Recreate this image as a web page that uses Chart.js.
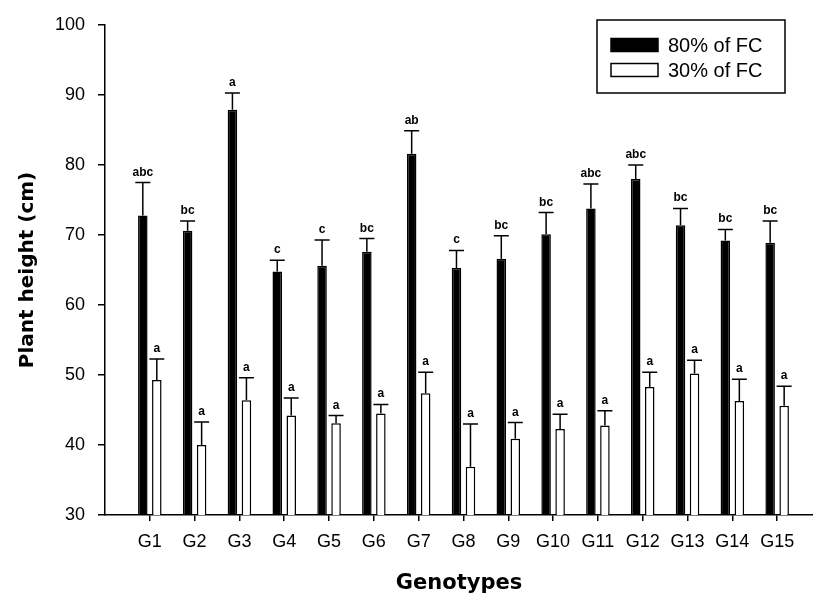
<!DOCTYPE html>
<html>
<head>
<meta charset="utf-8">
<script src="https://cdn.jsdelivr.net/npm/chart.js@4/dist/chart.umd.min.js"></script>
<style>
  body { margin: 0; background: #fff; }
  #wrap { width: 813px; height: 596px; position: relative; }
</style>
</head>
<body>
<div id="wrap"><canvas id="chart"></canvas></div>
<script>
const genotypes = ["G1", "G2", "G3", "G4", "G5", "G6", "G7", "G8", "G9", "G10", "G11", "G12", "G13", "G14", "G15"];

// 80% of field capacity
const fc80 = [72.8, 70.6, 87.9, 64.8, 65.6, 67.6, 81.6, 65.3, 66.6, 70.1, 73.8, 78.0, 71.4, 69.2, 68.9];
const fc80Err = [4.7, 1.4, 2.4, 1.6, 3.7, 1.9, 3.3, 2.5, 3.3, 3.1, 3.5, 2.0, 2.4, 1.6, 3.1];
const fc80Letters = ["abc", "bc", "a", "c", "c", "bc", "ab", "c", "bc", "bc", "abc", "abc", "bc", "bc", "bc"];

// 30% of field capacity
const fc30 = [49.3, 40.0, 46.4, 44.2, 43.1, 44.5, 47.4, 36.9, 40.9, 42.3, 42.8, 48.3, 50.2, 46.3, 45.6];
const fc30Err = [3.0, 3.3, 3.2, 2.5, 1.1, 1.3, 3.0, 6.1, 2.3, 2.1, 2.1, 2.1, 1.9, 3.1, 2.8];
const fc30Letters = ["a", "a", "a", "a", "a", "a", "a", "a", "a", "a", "a", "a", "a", "a", "a"];

const yTicks = [30, 40, 50, 60, 70, 80, 90, 100];

const sans = "'Liberation Sans', Arial, sans-serif";
const boldSans = "'DejaVu Sans', Verdana, sans-serif";

// error bars (upper only) plus significance letters
const errorBars = {
  id: "errorBars",
  afterDatasetsDraw(chart) {
    const ctx = chart.ctx;
    const y = chart.scales.y;
    ctx.save();
    ctx.strokeStyle = "#000";
    ctx.fillStyle = "#000";
    ctx.lineWidth = 1.5;
    ctx.font = "bold 12px " + sans;
    ctx.textAlign = "center";
    ctx.textBaseline = "alphabetic";
    chart.data.datasets.forEach((ds, di) => {
      const meta = chart.getDatasetMeta(di);
      meta.data.forEach((bar, i) => {
        const top = y.getPixelForValue(ds.data[i].y + ds.errors[i]);
        ctx.beginPath();
        ctx.moveTo(bar.x, bar.y);
        ctx.lineTo(bar.x, top);
        ctx.moveTo(bar.x - 7.5, top);
        ctx.lineTo(bar.x + 7.5, top);
        ctx.stroke();
        ctx.fillText(ds.letters[i], bar.x, top - 7);
      });
    });
    ctx.restore();
  }
};

// boxed legend in the top right corner
const boxLegend = {
  id: "boxLegend",
  afterDraw(chart) {
    const ctx = chart.ctx;
    const x0 = 597, y0 = 20, w = 188, h = 73;
    ctx.save();
    ctx.lineWidth = 1.5;
    ctx.strokeStyle = "#000";
    ctx.strokeRect(x0, y0, w, h);
    ctx.font = "20px " + sans;
    ctx.textBaseline = "middle";
    ctx.textAlign = "left";
    chart.data.datasets.forEach((ds, i) => {
      const cy = y0 + 25 + i * 25;
      ctx.fillStyle = ds.backgroundColor;
      ctx.fillRect(611, cy - 6.5, 47, 13);
      ctx.strokeRect(611, cy - 6.5, 47, 13);
      ctx.fillStyle = "#000";
      ctx.fillText(ds.label, 668, cy + 1);
    });
    ctx.restore();
  }
};

new Chart(document.getElementById("chart"), {
  type: "bar",
  data: {
    datasets: [
      {
        label: "80% of FC",
        data: genotypes.map((g, i) => ({ x: i + 1, y: fc80[i] })),
        errors: fc80Err,
        letters: fc80Letters,
        backgroundColor: "#000",
        borderColor: "#000",
        borderWidth: 1.5
      },
      {
        label: "30% of FC",
        data: genotypes.map((g, i) => ({ x: i + 1, y: fc30[i] })),
        errors: fc30Err,
        letters: fc30Letters,
        backgroundColor: "#fff",
        borderColor: "#000",
        borderWidth: 1.5
      }
    ]
  },
  options: {
    responsive: true,
    maintainAspectRatio: false,
    animation: false,
    categoryPercentage: 0.625,
    barPercentage: 0.68,
    layout: { padding: { top: 25, left: 0, right: 0, bottom: 0 } },
    plugins: {
      legend: { display: false },
      tooltip: { enabled: false }
    },
    scales: {
      x: {
        type: "linear",
        min: 0,
        max: 15.8,
        offset: false,
        afterBuildTicks: (scale) => {
          scale.ticks = genotypes.map((g, i) => ({ value: i + 1 }));
        },
        afterFit: (scale) => { scale.height = 81; },
        border: { display: true, color: "#000", width: 1.5 },
        grid: { offset: false, drawOnChartArea: false, drawTicks: true, tickLength: 6, color: "#000", lineWidth: 1.5 },
        ticks: {
          autoSkip: false,
          maxRotation: 0,
          padding: 10,
          color: "#000",
          font: { family: sans, size: 18 },
          callback: (v) => genotypes[v - 1]
        },
        title: {
          display: true,
          text: "Genotypes",
          color: "#000",
          font: { family: boldSans, size: 21, weight: "bold" },
          padding: { top: 0, bottom: 0 }
        }
      },
      y: {
        min: 30,
        max: 100,
        afterBuildTicks: (scale) => {
          scale.ticks = yTicks.map((v) => ({ value: v }));
        },
        afterFit: (scale) => { scale.width = 105; },
        border: { display: true, color: "#000", width: 1.5 },
        grid: { drawOnChartArea: false, drawTicks: true, tickLength: 7, color: "#000", lineWidth: 1.5 },
        ticks: {
          padding: 13,
          color: "#000",
          font: { family: sans, size: 18 }
        },
        title: {
          display: true,
          text: "Plant height (cm)",
          color: "#000",
          font: { family: boldSans, size: 20, weight: "bold" },
          padding: { top: 16, bottom: 0 }
        }
      }
    }
  },
  plugins: [errorBars, boxLegend]
});
</script>
</body>
</html>
